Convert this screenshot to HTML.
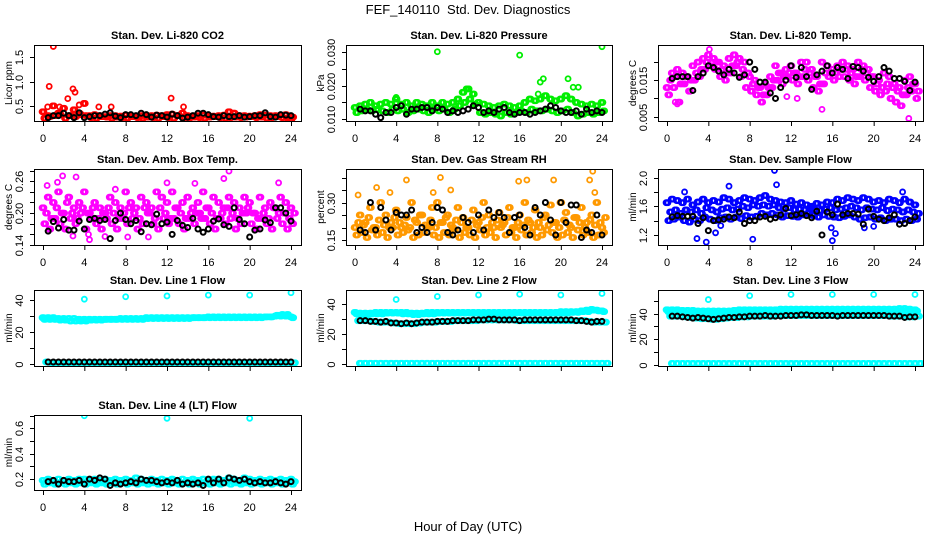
<!DOCTYPE html>
<html><head><meta charset="utf-8"><style>
html,body{margin:0;padding:0;background:#fff;}
svg{display:block;font-family:"Liberation Sans",Arial,sans-serif;}
</style></head><body>
<svg id="chart" width="936" height="540" viewBox="0 0 936 540">
<text x="468" y="14" text-anchor="middle" font-size="13">FEF_140110&#160; Std. Dev. Diagnostics</text>
<text x="468" y="531" text-anchor="middle" font-size="13">Hour of Day (UTC)</text>
</svg>
<script>
const co2A=[0.38,0.3,0.5,0.35,0.45,0.3,0.42,0.35,0.55,0.3,0.32,0.3,0.28,0.3,0.3,0.29,0.31,0.3,0.28,0.3,0.29,0.3,0.31,0.3,0.32,0.33,0.3,0.35,0.3,0.28,0.3,0.31,0.3,0.29,0.3,0.31,0.38,0.35,0.3,0.3,0.29,0.3,0.32,0.31,0.3,0.3,0.31,0.32,0.22];
const co2B=[0.25,0.28,0.3,0.32,0.25,0.3,0.28,0.32,0.3,0.26,0.25,0.28,0.27,0.25,0.27,0.26,0.25,0.28,0.26,0.25,0.27,0.26,0.25,0.28,0.26,0.25,0.3,0.26,0.25,0.27,0.26,0.25,0.27,0.28,0.26,0.25,0.26,0.27,0.26,0.27,0.28,0.26,0.27,0.25,0.26,0.28,0.26,0.25,0.27];
const co2OutH=[1.0,0.6,2.9,3.1,3.5,2.4,12.4,13.6,5.4,6.6,1.6,0.45];
const co2OutV=[1.72,0.9,0.85,0.78,0.52,0.65,0.66,0.48,0.48,0.48,0.48,0.48];
const co2K=[0.26,0.3,0.3,0.35,0.3,0.26,0.36,0.26,0.28,0.3,0.3,0.33,0.36,0.29,0.26,0.32,0.32,0.3,0.35,0.32,0.27,0.31,0.3,0.27,0.33,0.3,0.25,0.27,0.3,0.35,0.35,0.32,0.28,0.27,0.3,0.28,0.28,0.3,0.27,0.28,0.3,0.3,0.36,0.28,0.27,0.32,0.31,0.3];

const prA=[0.0135,0.014,0.0145,0.015,0.014,0.0145,0.015,0.0145,0.016,0.0145,0.015,0.014,0.015,0.0145,0.014,0.015,0.014,0.015,0.0145,0.015,0.016,0.018,0.019,0.0175,0.015,0.0145,0.014,0.0135,0.014,0.0145,0.014,0.0135,0.014,0.015,0.016,0.0155,0.016,0.017,0.016,0.0155,0.016,0.017,0.016,0.015,0.0145,0.014,0.0145,0.014,0.015];
const prB=[0.012,0.0125,0.013,0.0125,0.013,0.0125,0.012,0.013,0.0125,0.013,0.012,0.0125,0.013,0.0125,0.012,0.013,0.0125,0.013,0.012,0.013,0.014,0.015,0.016,0.0145,0.012,0.0115,0.012,0.0115,0.011,0.012,0.0115,0.012,0.0125,0.012,0.013,0.0125,0.0125,0.013,0.0125,0.012,0.0125,0.013,0.012,0.011,0.0115,0.012,0.0115,0.012,0.0125];
const prOutH=[8,16,24,18,18.3,20.7,21.2,21.7,17.8,4,10.8];
const prOutV=[0.030,0.029,0.0315,0.021,0.022,0.022,0.0195,0.0195,0.0175,0.0165,0.019];
const prK=[0.013,0.0125,0.0125,0.0115,0.0105,0.012,0.012,0.0135,0.014,0.0115,0.013,0.013,0.0135,0.0135,0.0125,0.0135,0.013,0.012,0.0125,0.012,0.0125,0.013,0.014,0.0135,0.012,0.0125,0.012,0.013,0.0135,0.012,0.0115,0.012,0.012,0.0115,0.012,0.0125,0.013,0.014,0.0135,0.0125,0.012,0.012,0.0125,0.0115,0.013,0.012,0.0125,0.012];

const tpA=[0.013,0.017,0.018,0.017,0.016,0.019,0.02,0.021,0.022,0.021,0.02,0.019,0.021,0.022,0.021,0.02,0.016,0.015,0.013,0.014,0.016,0.019,0.017,0.018,0.019,0.017,0.02,0.02,0.018,0.016,0.02,0.019,0.018,0.019,0.02,0.019,0.018,0.02,0.019,0.018,0.016,0.015,0.017,0.016,0.014,0.013,0.015,0.016,0.014];
const tpB=[0.011,0.013,0.009,0.014,0.012,0.015,0.016,0.018,0.019,0.018,0.016,0.015,0.017,0.019,0.016,0.013,0.012,0.011,0.009,0.011,0.013,0.015,0.014,0.016,0.015,0.014,0.016,0.015,0.013,0.012,0.014,0.016,0.015,0.016,0.016,0.015,0.014,0.016,0.015,0.013,0.012,0.011,0.012,0.01,0.009,0.008,0.011,0.012,0.01];
const tpC=[0.015,0.016,0.014,0.016,0.015,0.017,0.018,0.02,0.02,0.02,0.018,0.017,0.019,0.02,0.018,0.017,0.014,0.013,0.011,0.013,0.015,0.017,0.016,0.017,0.017,0.016,0.018,0.017,0.016,0.014,0.017,0.017,0.017,0.018,0.018,0.017,0.016,0.018,0.017,0.016,0.014,0.013,0.014,0.013,0.012,0.011,0.013,0.014,0.012];
const tpOutH=[0.8,1.0,15.0,23.4,12.6,11.6,4.1];
const tpOutV=[0.009,0.0085,0.007,0.0045,0.01,0.0105,0.0235];
const tpK=[0.0155,0.016,0.016,0.016,0.0122,0.016,0.017,0.019,0.0185,0.0175,0.0165,0.018,0.017,0.0158,0.0165,0.02,0.018,0.0145,0.0145,0.0115,0.01,0.013,0.015,0.019,0.0158,0.0185,0.016,0.0125,0.0165,0.0175,0.019,0.017,0.0185,0.018,0.0155,0.0188,0.0185,0.0175,0.0158,0.0147,0.016,0.0185,0.0175,0.0155,0.0155,0.0147,0.0122,0.0145];

const abA=[0.21,0.23,0.22,0.24,0.2,0.23,0.21,0.22,0.24,0.2,0.22,0.21,0.2,0.23,0.22,0.21,0.24,0.22,0.21,0.23,0.22,0.21,0.24,0.23,0.22,0.24,0.21,0.22,0.23,0.21,0.22,0.24,0.21,0.23,0.22,0.21,0.23,0.22,0.21,0.23,0.22,0.2,0.23,0.21,0.22,0.21,0.23,0.22,0.21];
const abB=[0.18,0.17,0.19,0.18,0.17,0.19,0.18,0.2,0.17,0.19,0.18,0.17,0.19,0.18,0.17,0.19,0.18,0.19,0.17,0.18,0.2,0.18,0.17,0.19,0.18,0.19,0.18,0.17,0.19,0.18,0.2,0.19,0.18,0.17,0.19,0.18,0.19,0.17,0.18,0.2,0.18,0.17,0.19,0.18,0.17,0.19,0.18,0.17,0.18];
const abC=[0.2,0.19,0.21,0.2,0.22,0.2,0.19,0.21,0.2,0.21,0.19,0.2,0.21,0.2,0.19,0.2,0.21,0.2,0.19,0.21,0.2,0.19,0.21,0.2,0.19,0.21,0.2,0.19,0.2,0.2,0.19,0.21,0.2,0.19,0.2,0.21,0.2,0.19,0.2,0.21,0.2,0.19,0.2,0.19,0.21,0.2,0.2,0.19,0.2];
const abOutH=[1.9,3.2,0.4,1.4,4.5,12,18,17.5,6,7,14.7,22.8,8.2,10.2,2.9,4.4];
const abOutV=[0.27,0.268,0.252,0.258,0.15,0.257,0.279,0.265,0.156,0.245,0.256,0.257,0.155,0.155,0.157,0.16];
const abK=[0.166,0.184,0.172,0.188,0.168,0.168,0.185,0.17,0.188,0.19,0.186,0.188,0.152,0.186,0.2,0.188,0.18,0.186,0.165,0.18,0.178,0.198,0.18,0.183,0.16,0.186,0.177,0.173,0.19,0.17,0.164,0.17,0.185,0.189,0.178,0.175,0.21,0.188,0.18,0.155,0.168,0.17,0.187,0.182,0.21,0.21,0.2,0.185];

const rhA=[0.2,0.25,0.22,0.28,0.2,0.3,0.25,0.22,0.27,0.2,0.24,0.3,0.22,0.25,0.2,0.28,0.3,0.22,0.25,0.2,0.28,0.24,0.2,0.27,0.22,0.3,0.25,0.2,0.26,0.22,0.28,0.2,0.25,0.3,0.22,0.27,0.2,0.25,0.29,0.22,0.3,0.26,0.2,0.24,0.28,0.22,0.25,0.3,0.2];
const rhB=[0.17,0.18,0.16,0.19,0.17,0.18,0.16,0.2,0.17,0.18,0.19,0.16,0.17,0.18,0.2,0.17,0.16,0.18,0.17,0.19,0.16,0.18,0.17,0.16,0.19,0.17,0.18,0.16,0.2,0.17,0.18,0.16,0.19,0.17,0.18,0.16,0.17,0.19,0.18,0.16,0.17,0.18,0.16,0.19,0.17,0.18,0.16,0.17,0.18];
const rhC=[0.22,0.21,0.24,0.2,0.23,0.21,0.2,0.24,0.22,0.21,0.2,0.23,0.25,0.21,0.23,0.2,0.22,0.24,0.21,0.23,0.22,0.2,0.23,0.21,0.24,0.2,0.22,0.23,0.21,0.24,0.2,0.22,0.21,0.23,0.2,0.22,0.24,0.21,0.22,0.2,0.23,0.21,0.24,0.22,0.2,0.23,0.21,0.22,0.24];
const rhOutH=[0.3,2.1,5.0,8.3,9.3,15.9,16.7,19.3,22.8,23.1,23.3,3.4,7.6];
const rhOutV=[0.33,0.36,0.39,0.40,0.35,0.385,0.39,0.39,0.39,0.425,0.34,0.34,0.34];
const rhK=[0.19,0.18,0.3,0.19,0.28,0.23,0.19,0.26,0.25,0.25,0.27,0.18,0.2,0.18,0.22,0.28,0.27,0.18,0.17,0.19,0.24,0.22,0.18,0.25,0.19,0.27,0.24,0.26,0.24,0.18,0.24,0.25,0.2,0.17,0.28,0.25,0.3,0.23,0.17,0.3,0.22,0.29,0.29,0.16,0.19,0.18,0.25,0.17];

const sfA=[1.65,1.7,1.68,1.65,1.7,1.62,1.66,1.7,1.65,1.68,1.66,1.72,1.7,1.65,1.68,1.72,1.7,1.68,1.72,1.75,1.7,1.68,1.66,1.65,1.68,1.63,1.65,1.62,1.6,1.64,1.62,1.66,1.65,1.7,1.68,1.72,1.7,1.68,1.72,1.7,1.66,1.68,1.65,1.7,1.68,1.65,1.7,1.66,1.62];
const sfB=[1.4,1.42,1.45,1.4,1.38,1.42,1.4,1.45,1.42,1.4,1.44,1.45,1.42,1.45,1.43,1.47,1.45,1.46,1.5,1.48,1.5,1.48,1.45,1.47,1.46,1.45,1.48,1.5,1.47,1.45,1.48,1.46,1.45,1.44,1.46,1.48,1.45,1.42,1.44,1.45,1.42,1.44,1.4,1.42,1.42,1.4,1.42,1.4,1.42];
const sfC=[1.52,1.55,1.5,1.55,1.52,1.55,1.5,1.58,1.55,1.52,1.56,1.58,1.55,1.56,1.6,1.58,1.62,1.6,1.62,1.6,1.62,1.58,1.56,1.58,1.55,1.56,1.55,1.58,1.55,1.54,1.56,1.58,1.55,1.56,1.58,1.6,1.58,1.55,1.58,1.56,1.55,1.58,1.54,1.56,1.55,1.52,1.55,1.52,1.5];
const sfOutH=[2.9,3.8,8.3,10.4,16,15.9,16.3,6,4.7,5.2,19.1,20.0,1.7,10.6,22.8];
const sfOutV=[1.15,1.1,1.14,2.1,1.12,1.3,1.22,1.88,1.23,1.33,1.3,1.32,1.8,1.9,1.8];
const sfK=[1.45,1.47,1.46,1.46,1.46,1.36,1.44,1.26,1.4,1.41,1.42,1.45,1.44,1.52,1.36,1.4,1.4,1.45,1.46,1.42,1.44,1.48,1.57,1.47,1.48,1.5,1.47,1.44,1.53,1.2,1.52,1.48,1.63,1.48,1.5,1.5,1.49,1.35,1.56,1.46,1.42,1.4,1.44,1.48,1.35,1.36,1.4,1.45];

const l1A=[29,29,29,28.5,28.5,28.5,28.5,28,28,28,28,28,28,28,28,28.5,28.5,28.5,28.5,28.5,29,29,29,29,29,29,29,29,29,29,29,29,29.5,29.5,29.5,29.5,29.5,29.5,29.5,29.5,29.5,29.5,29.5,29.5,29.5,30,30,30,29.5];
const l1B=[28,28,28,27.5,27.5,27,27,27,27,27.5,27.5,27.5,28,28,28,28,28,28,28,28,28.5,28.5,28.5,28.5,28.5,28.5,28.5,28.5,28.5,29,29,29,29,29,29,29,29,29,29,29,29,29,29,29.5,29.5,30.5,31,31,29];
const l1L=[1.5,1,1,1,1,1,1,1,1,1,1,1,1,1,1,1,1,1,1,1,1,1,1,1,1,1,1,1,1,1,1,1,1,1,1,1,1,1,1,1,1,1,1,1,1,1,1,1,1];
const l1OutH=[4,8,12,16,20,24];
const l1OutV=[40.5,42,42.5,43,43,44.5];
const l1K=[1.5,1.5,1.5,1.5,1.5,1.5,1.5,1.5,1.5,1.5,1.5,1.5,1.5,1.5,1.5,1.5,1.5,1.5,1.5,1.5,1.5,1.5,1.5,1.5,1.5,1.5,1.5,1.5,1.5,1.5,1.5,1.5,1.5,1.5,1.5,1.5,1.5,1.5,1.5,1.5,1.5,1.5,1.5,1.5,1.5,1.5,1.5,1.5];

const l2A=[34.5,34,34,34,34.5,34.5,34.5,34.5,34.5,34.5,34.5,34,34,34,34.5,34.5,34.5,34.5,34.5,34.5,34.5,34.5,34.5,34.5,34.5,34.5,34.5,34.5,34.5,34.5,34.5,34.5,34.5,34.5,34.5,34.5,34.5,34.5,34.5,34.5,35,35,35,35,35.5,36,36.5,36,35.5];
const l2B=[33.5,33,33,33.5,33.5,33.5,34,34,34,33.5,33.5,33,33,33.5,33.5,33.5,34,34,34,34,34,34,34,34,34,34,34,34,34,34,34,34,34,34,34,34,34,34,34,34,34,34,34.5,34.5,35,35,36,35.5,35];
const l2C=[29,29,29,28.5,28,28,28,27.5,27,27,27,27,27.5,28,28,28,28.5,28.5,28.5,29,29,29,29,29,29.5,29.5,29.5,29.5,29.5,29.5,29.5,29,29,29,29,29,29,29,29,29,29,29,29,29,29,28.5,28,28,28];
const l2L=[0.8,0.8,0.8,0.8,0.8,0.8,0.8,0.8,0.8,0.8,0.8,0.8,0.8,0.8,0.8,0.8,0.8,0.8,0.8,0.8,0.8,0.8,0.8,0.8,0.8,0.8,0.8,0.8,0.8,0.8,0.8,0.8,0.8,0.8,0.8,0.8,0.8,0.8,0.8,0.8,0.8,0.8,0.8,0.8,0.8,0.8,0.8,0.8,0.8];
const l2OutH=[4,8,12,16,20,24];
const l2OutV=[43,45,46,46.5,46,47];
const l2K=[29,29,28.5,28.5,28,28.5,27.5,27.5,27,27.5,27,27.5,28,28,28,28.5,28.5,28.5,29,29,29,29,29.5,29.5,29.5,30,30,29.5,29.5,29.5,29.5,29,29.5,29.5,29.5,29.5,29.5,29.5,29.5,29.5,29.5,29.5,29,29,28.5,28,28.5,28.5];

const l3A=[43,43,43,42.5,42.5,42.5,42,42,42,42,42,42,42,42.5,43,43,43,43,43,43,43,43,43.5,43.5,43.5,43.5,43.5,43.5,43.5,43.5,43.5,43.5,43.5,43.5,43.5,43.5,43.5,43.5,43.5,43.5,43.5,43.5,43.5,43.5,43.5,44,44,43.5,43];
const l3B=[41.5,41.5,41.5,41,41,41,40.5,40.5,40.5,40.5,40.5,41,41,41,41.5,41.5,41.5,42,42,42,42,42,42,42,42,42,42,42,42,42,42,42,42,42,42,42,42,42,42,42,42,42,42,42,42,42.5,42.5,42,42];
const l3C=[38,38,38,37.5,37,36.5,36,36,35.5,35.5,36,36.5,37,37,37.5,37.5,38,38,38,38,38,38.5,38.5,38.5,38.5,38.5,38.5,38.5,38.5,38.5,38.5,38.5,38.5,38.5,38.5,38.5,38.5,38.5,38.5,38.5,38.5,38.5,38.5,38,38,38,37.5,37.5,38];
const l3L=[1,1,1,1,1,1,1,1,1,1,1,1,1,1,1,1,1,1,1,1,1,1,1,1,1,1,1,1,1,1,1,1,1,1,1,1,1,1,1,1,1,1,1,1,1,1,1,1,1];
const l3OutH=[4,8,12,16,20,24];
const l3OutV=[51,54,55,55,55,55];
const l3K=[38,38,37.5,37,36.5,37,36.5,36,35.5,36,36.5,37,37,37.5,37.5,38,38,38,38.5,38,38,38,38.5,38.5,38.5,39,39,38.5,38.5,38.5,38.5,38.5,38,38.5,38.5,38.5,38.5,38.5,38.5,38.5,38.5,38.5,38,38,38,37,37.5,37.5];

const l4A=[0.19,0.2,0.19,0.2,0.19,0.2,0.19,0.2,0.2,0.19,0.2,0.19,0.2,0.19,0.2,0.19,0.2,0.19,0.21,0.2,0.19,0.2,0.19,0.2,0.19,0.2,0.19,0.2,0.19,0.2,0.19,0.2,0.19,0.2,0.2,0.19,0.21,0.2,0.19,0.21,0.2,0.19,0.2,0.19,0.2,0.19,0.2,0.19,0.2];
const l4B=[0.16,0.17,0.16,0.17,0.16,0.17,0.16,0.17,0.16,0.17,0.16,0.17,0.16,0.17,0.16,0.17,0.16,0.17,0.16,0.17,0.16,0.17,0.16,0.17,0.16,0.17,0.16,0.17,0.16,0.17,0.16,0.17,0.16,0.17,0.16,0.17,0.16,0.17,0.16,0.17,0.16,0.17,0.16,0.17,0.16,0.17,0.16,0.17,0.16];
const l4C=[0.18,0.18,0.17,0.18,0.18,0.18,0.17,0.18,0.18,0.18,0.17,0.18,0.18,0.18,0.17,0.18,0.18,0.18,0.17,0.18,0.18,0.18,0.17,0.18,0.18,0.18,0.17,0.18,0.18,0.18,0.17,0.18,0.18,0.18,0.17,0.18,0.18,0.18,0.17,0.18,0.18,0.18,0.17,0.18,0.18,0.18,0.17,0.18,0.18];
const l4OutH=[4,12,20];
const l4OutV=[0.70,0.68,0.68];
const l4K=[0.18,0.19,0.16,0.19,0.18,0.18,0.19,0.16,0.2,0.19,0.21,0.2,0.15,0.17,0.16,0.17,0.18,0.17,0.2,0.19,0.19,0.18,0.17,0.18,0.17,0.19,0.16,0.17,0.16,0.17,0.15,0.2,0.17,0.2,0.17,0.21,0.2,0.19,0.2,0.18,0.17,0.18,0.17,0.17,0.18,0.17,0.16,0.18];

const xTicks=[0,4,8,12,16,20,24];

const panels=[
 {name:"co2",title:"Stan. Dev. Li-820 CO2",ylab:"Licor ppm",col:0,row:0,ymin:0.19,ymax:1.75,ticks:[0.5,1.0,1.5],labels:["0.5","1.0","1.5"],color:"#ff0000",layers:[co2A,co2B],out:[co2OutH,co2OutV],black:co2K},
 {name:"pressure",title:"Stan. Dev. Li-820 Pressure",ylab:"kPa",col:1,row:0,ymin:0.0095,ymax:0.032,ticks:[0.010,0.015,0.020,0.025,0.030],labels:["0.010","","0.020","","0.030"],color:"#00ee00",layers:[prA,prB],out:[prOutH,prOutV],black:prK},
 {name:"li820-temp",title:"Stan. Dev. Li-820 Temp.",ylab:"degrees C",col:2,row:0,ymin:0.0038,ymax:0.0247,ticks:[0.005,0.010,0.015,0.020],labels:["0.005","","0.015",""],color:"#ff00ff",layers:[tpA,tpB,tpC],out:[tpOutH,tpOutV],black:tpK},
 {name:"amb-box-temp",title:"Stan. Dev. Amb. Box Temp.",ylab:"degrees C",col:0,row:1,ymin:0.14,ymax:0.283,ticks:[0.14,0.16,0.18,0.20,0.22,0.24,0.26,0.28],labels:["0.14","","","0.20","","","0.26",""],color:"#ff00ff",layers:[abA,abB,abC],out:[abOutH,abOutV],black:abK},
 {name:"gas-stream-rh",title:"Stan. Dev. Gas Stream RH",ylab:"percent",col:1,row:1,ymin:0.13,ymax:0.434,ticks:[0.15,0.20,0.25,0.30,0.35,0.40],labels:["0.15","","","0.30","",""],color:"#ff9900",layers:[rhA,rhB,rhC],out:[rhOutH,rhOutV],black:rhK},
 {name:"sample-flow",title:"Stan. Dev. Sample Flow",ylab:"ml/min",col:2,row:1,ymin:1.06,ymax:2.12,ticks:[1.2,1.4,1.6,1.8,2.0],labels:["1.2","","1.6","","2.0"],color:"#0000ff",layers:[sfA,sfB,sfC],out:[sfOutH,sfOutV],black:sfK},
 {name:"line1-flow",title:"Stan. Dev. Line 1 Flow",ylab:"ml/min",col:0,row:2,ymin:-1,ymax:46.2,ticks:[0,10,20,30,40],labels:["0","","20","","40"],color:"#00ffff",layers:[l1A,l1B,l1L],out:[l1OutH,l1OutV],black:l1K,noX:true},
 {name:"line2-flow",title:"Stan. Dev. Line 2 Flow",ylab:"ml/min",col:1,row:2,ymin:-1,ymax:49.3,ticks:[0,10,20,30,40],labels:["0","","20","","40"],color:"#00ffff",layers:[l2A,l2B,l2C,l2L],out:[l2OutH,l2OutV],black:l2K,noX:true},
 {name:"line3-flow",title:"Stan. Dev. Line 3 Flow",ylab:"ml/min",col:2,row:2,ymin:-1,ymax:58.5,ticks:[0,10,20,30,40,50],labels:["0","","20","","40",""],color:"#00ffff",layers:[l3A,l3B,l3C,l3L],out:[l3OutH,l3OutV],black:l3K,noX:true},
 {name:"line4-flow",title:"Stan. Dev. Line 4 (LT) Flow",ylab:"ml/min",col:0,row:3,ymin:0.114,ymax:0.706,ticks:[0.2,0.3,0.4,0.5,0.6,0.7],labels:["0.2","","0.4","","0.6",""],color:"#00ffff",layers:[l4A,l4B,l4C],out:[l4OutH,l4OutV],black:l4K}
];

// ---- layout ----
const colBox=[[34,301],[346,612],[658,923]];
const colX=[[43,291],[355,602],[667,915]];
const rowBox=[[45,121],[169,245],[290,366],[415,490]];
const NS="http://www.w3.org/2000/svg";
const svg=document.getElementById("chart");
function mk(tag,attrs,parent){const e=document.createElementNS(NS,tag);for(const k in attrs)e.setAttribute(k,attrs[k]);(parent||svg).appendChild(e);return e;}
const smear=[-0.09,0,0.09];

panels.forEach(p=>{
  const [bl,br]=colBox[p.col],[bt,bb]=rowBox[p.row],[x0,x24]=colX[p.col];
  const g=mk("g",{});
  
  
  const xs=h=>x0+h*(x24-x0)/24;
  const ys=v=>bb-(v-p.ymin)*(bb-bt)/(p.ymax-p.ymin);
  const clip=mk("clipPath",{id:"c-"+p.name},g);
  mk("rect",{x:bl,y:bt,width:br-bl,height:bb-bt},clip);
  const pts=mk("g",{"clip-path":"url(#c-"+p.name+")",fill:"none","stroke-width":"1.8"},g);
  
  
  p.layers.forEach((arr,li)=>{
    arr.forEach((v,i)=>{
      smear.forEach(d=>{
        const c=mk("circle",{cx:xs(i*0.5+li*0.17+d),cy:ys(v),r:2.5,stroke:p.color},pts);
        
        
      });
    });
  });
  p.out[0].forEach((h,i)=>{
    const c=mk("circle",{cx:xs(h),cy:ys(p.out[1][i]),r:2.5,stroke:p.color},pts);
    
    
  });
  p.black.forEach((v,i)=>{
    const c=mk("circle",{cx:xs(0.5+i*0.5),cy:ys(v),r:2.5,stroke:"#000","stroke-width":"2"},pts);
    
    
  });
  const box=mk("rect",{x:bl+0.5,y:bt+0.5,width:br-bl,height:bb-bt,fill:"none",stroke:"#000","stroke-width":1},g);
  
  
  mk("line",{x1:xs(0),x2:xs(24),y1:bb+0.5,y2:bb+0.5,stroke:"#000"},g);
  xTicks.forEach(t=>{
    mk("line",{x1:xs(t)+0.5,x2:xs(t)+0.5,y1:bb,y2:bb+5,stroke:"#000"},g);
    if(!p.noX){
      const tx=mk("text",{x:xs(t),y:bb+21,"text-anchor":"middle","font-size":"11"},g);
      tx.textContent=t;
      
      
    }
  });
  p.ticks.forEach((t,i)=>{
    const y=Math.round(ys(t))+0.5;
    mk("line",{x1:bl-4,x2:bl,y1:y,y2:y,stroke:"#000"},g);
    if(p.labels[i]){
      const tx=mk("text",{x:bl-11,y:y,"text-anchor":"middle","font-size":"11",transform:"rotate(-90 "+(bl-11)+" "+y+")"},g);
      tx.textContent=p.labels[i];
      
      
    }
  });
  const yl=mk("text",{x:bl-22,y:(bt+bb)/2,"text-anchor":"middle","font-size":"10",transform:"rotate(-90 "+(bl-22)+" "+((bt+bb)/2)+")"},g);
  yl.textContent=p.ylab;
  
  
  const ti=mk("text",{x:(bl+br)/2,y:bt-6,"text-anchor":"middle","font-size":"11","font-weight":"bold"},g);
  ti.textContent=p.title;
  
  
});
</script>
</body></html>
